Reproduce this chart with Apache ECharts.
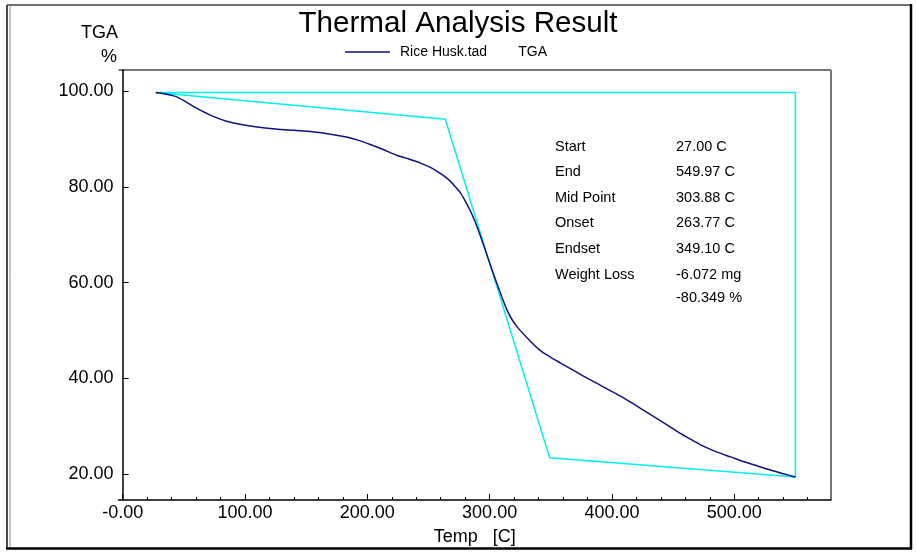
<!DOCTYPE html>
<html>
<head>
<meta charset="utf-8">
<title>Thermal Analysis Result</title>
<script src="https://cdn.jsdelivr.net/npm/echarts@6.0.0/dist/echarts.min.js"></script>
<style>
  html, body { margin: 0; padding: 0; background: #fff; }
  #chart { width: 916px; height: 554px; }
</style>
</head>
<body>
<div id="chart"></div>
<script>
// TGA curve
const tempC = [27, 35, 43, 50, 57, 65, 75, 85, 97, 110, 125, 140, 155, 170, 183, 193, 203, 213, 224, 234, 243,
  252, 259, 266, 271, 276, 281, 286, 291, 296, 303, 310, 314, 318, 323, 332, 341, 350, 358, 369, 380,
  391, 407, 418, 430, 445, 456, 467, 476, 486, 497, 508, 519, 529, 540, 550];
const tgaPct = [99.7, 99.4, 98.9, 98.0, 96.9, 95.8, 94.6, 93.7, 93.0, 92.5, 92.1, 91.8, 91.5, 91.0, 90.4, 89.7, 88.8, 87.8, 86.6, 85.8, 85.0,
  84.0, 82.9, 81.6, 80.3, 78.8, 76.6, 74.0, 70.8, 67.1, 61.9, 57.0, 54.4, 52.4, 50.6, 48.1, 45.9, 44.4, 43.2, 41.6, 40.0,
  38.5, 36.3, 34.6, 32.7, 30.3, 28.5, 26.9, 25.7, 24.6, 23.6, 22.6, 21.7, 20.9, 20.1, 19.4];

// onset / endset construction lines (closed loop)
const constructTemp = [27, 550, 550, 349.1, 263.77, 27];
const constructPct = [99.7, 99.7, 19.4, 23.4, 94.1, 99.7];

// axis ticks
const xMajorTicks = [0, 100, 200, 300, 400, 500];
const xMinorTicks = [20, 40, 60, 80, 120, 140, 160, 180, 220, 240, 260, 280, 320, 340, 360, 380,
  420, 440, 460, 480, 520, 540, 560];
const yTicks = [20, 40, 60, 80, 100];

// result table
const statNames = ['Start', 'End', 'Mid Point', 'Onset', 'Endset', 'Weight Loss', ''];
const statValues = ['27.00 C', '549.97 C', '303.88 C', '263.77 C', '349.10 C', '-6.072 mg', '-80.349 %'];
const statRowY = [147, 172, 198, 223, 249, 275, 298];

const seriesName = 'Rice Husk.tad        TGA';
const FONT = 'Liberation Sans, Arial, sans-serif';

const chart = echarts.init(document.getElementById('chart'));

const xMin = -3.43, xMax = 579.1;

const frame = [
  { type: 'line', shape: { x1: 7, y1: 5, x2: 911, y2: 5 }, style: { stroke: '#444', lineWidth: 1.5 } },
  { type: 'line', shape: { x1: 7, y1: 5, x2: 7, y2: 549 }, style: { stroke: '#111', lineWidth: 1.5 } },
  { type: 'line', shape: { x1: 10, y1: 5, x2: 10, y2: 548 }, style: { stroke: '#888', lineWidth: 1 } },
  { type: 'line', shape: { x1: 911, y1: 4, x2: 911, y2: 549 }, style: { stroke: '#000', lineWidth: 2.5 } },
  { type: 'line', shape: { x1: 6, y1: 548.5, x2: 912, y2: 548.5 }, style: { stroke: '#000', lineWidth: 2.5 } },
  // plot box top / right
  { type: 'line', shape: { x1: 118.5, y1: 70, x2: 831, y2: 70 }, style: { stroke: '#777', lineWidth: 2 } },
  { type: 'line', shape: { x1: 831, y1: 70, x2: 831, y2: 500 }, style: { stroke: '#777', lineWidth: 2 } },
  { type: 'text', left: 81, top: 24, style: { text: 'TGA', font: '18px ' + FONT, fill: '#000' } },
  { type: 'text', left: 101, top: 48, style: { text: '%', font: '18px ' + FONT, fill: '#000' } }
];

const statTexts = [];
statNames.forEach((n, i) => {
  statTexts.push({ type: 'text', left: 555, top: statRowY[i] - 8, style: { text: n, font: '14.5px ' + FONT, fill: '#000' } });
  statTexts.push({ type: 'text', left: 676, top: statRowY[i] - 8, style: { text: statValues[i], font: '14.5px ' + FONT, fill: '#000' } });
});

const fmt = v => (v === 0 ? '-0.00' : v.toFixed(2));

const options = {
  backgroundColor: '#fff',
  animation: false,
  title: {
    text: 'Thermal Analysis Result',
    left: 'center',
    top: 4,
    textStyle: { fontFamily: FONT, fontSize: 29.6, fontWeight: 'normal', color: '#000' }
  },
  legend: {
    data: [seriesName],
    left: 340,
    top: 40,
    icon: 'rect',
    itemWidth: 45,
    itemHeight: 1.5,
    textStyle: { fontFamily: FONT, fontSize: 14, color: '#000', padding: [0, 0, 0, 5] }
  },
  grid: { left: 118.5, right: 85, top: 70, bottom: 54 },
  xAxis: [
    {
      type: 'value',
      min: xMin,
      max: xMax,
      name: 'Temp   [C]',
      nameLocation: 'middle',
      nameGap: 28,
      nameTextStyle: { fontFamily: FONT, fontSize: 18, color: '#000' },
      axisLine: { lineStyle: { color: '#000', width: 1.5 } },
      axisTick: { inside: true, length: 6, customValues: xMajorTicks, lineStyle: { color: '#000' } },
      axisLabel: { customValues: xMajorTicks, formatter: fmt, margin: 4, fontFamily: FONT, fontSize: 18, color: '#000' },
      splitLine: { show: false }
    },
    {
      type: 'value',
      min: xMin,
      max: xMax,
      position: 'bottom',
      axisLine: { show: false },
      axisTick: { inside: true, length: 3, customValues: xMinorTicks, lineStyle: { color: '#000' } },
      axisLabel: { show: false },
      splitLine: { show: false }
    }
  ],
  yAxis: {
    type: 'value',
    min: 14.6,
    max: 104.4,
    axisLine: { show: true, lineStyle: { color: '#000', width: 1.5 } },
    axisTick: { show: true, inside: true, length: 6, customValues: yTicks, lineStyle: { color: '#000' } },
    axisLabel: { customValues: yTicks, formatter: fmt, margin: 5, fontFamily: FONT, fontSize: 18, color: '#000' },
    splitLine: { show: false }
  },
  graphic: frame.concat(statTexts),
  series: [
    {
      name: 'construct',
      type: 'line',
      data: constructTemp.map((t, i) => [t, constructPct[i]]),
      showSymbol: false,
      lineStyle: { color: '#00f0f0', width: 1.5 },
      itemStyle: { color: '#00f0f0' },
      z: 2
    },
    {
      name: seriesName,
      type: 'line',
      data: tempC.map((t, i) => [t, tgaPct[i]]),
      showSymbol: false,
      smooth: 0.3,
      lineStyle: { color: '#10107f', width: 1.5 },
      itemStyle: { color: '#10107f' },
      z: 3
    }
  ]
};

chart.setOption(options);
</script>
</body>
</html>
